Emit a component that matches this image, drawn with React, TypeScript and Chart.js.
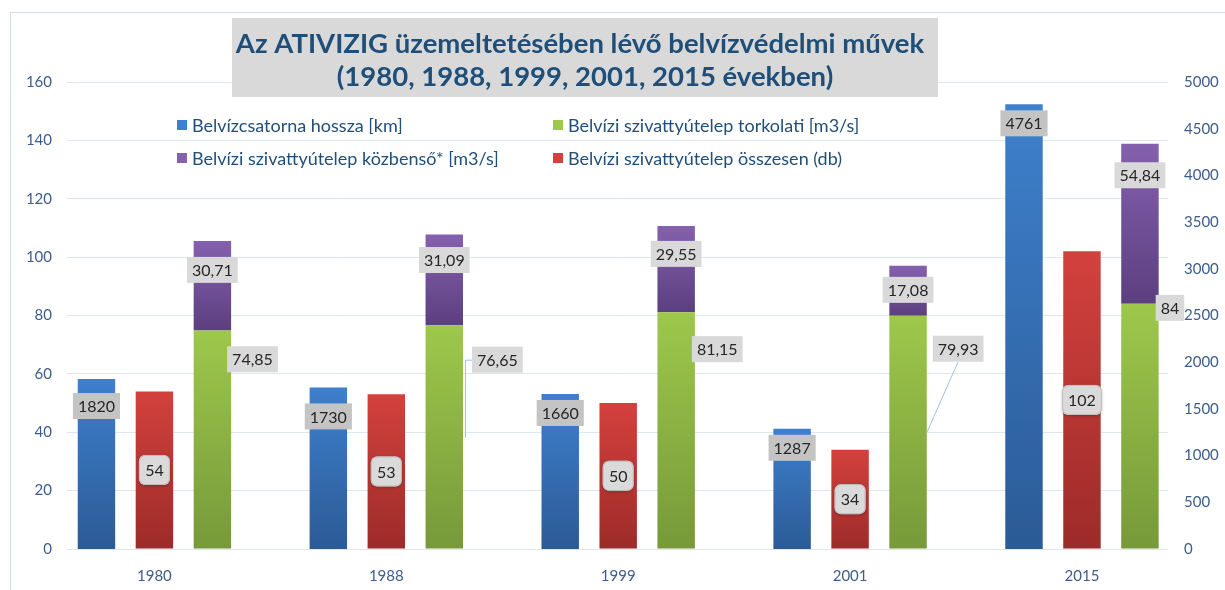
import React, { useEffect, useRef } from 'react';
import { Chart, registerables } from 'chart.js';

Chart.register(...registerables);

// ---- data ----
const years = ['1980', '1988', '1999', '2001', '2015'];
const canalKm = [1820, 1730, 1660, 1287, 4761];
const stationsTotal = [54, 53, 50, 34, 102];
const outletCap = [74.85, 76.65, 81.15, 79.93, 84];
const interCap = [30.71, 31.09, 29.55, 17.08, 54.84];

const leftMax = 160;
const leftStep = 20;
const rightMax = 5000;
const rightStep = 500;

const titleLines = [
  'Az ATIVIZIG üzemeltetésében lévő belvízvédelmi művek',
  '(1980, 1988, 1999, 2001, 2015 években)',
];
const nameCanal = 'Belvízcsatorna hossza [km]';
const nameOutlet = 'Belvízi szivattyútelep torkolati [m3/s]';
const nameInter = 'Belvízi szivattyútelep közbenső* [m3/s]';
const nameTotal = 'Belvízi szivattyútelep összesen (db)';

// ---- label placement (pixel offsets, style only) ----
const blueLabelDy = [27, 29, 19, 19, 19];
const purpleLabelDy = [29, 25.5, 28, 24, 31.5];
const greenLabelDx = [-4, 9, -3, 6, -3];
const greenLabelDy = [28.7, 34.4, 37, 33, 4];
const leaders: ({ kind: string; drop: number } | null)[] = [
  null,
  { kind: 'elbow', drop: 78 },
  null,
  { kind: 'diag', drop: 84 },
  null,
];

const FONT = 'Lato, "Open Sans", sans-serif';
const AXIS_COLOR = '#3d5d8c';
const TEXT_BLUE = '#1f4e79';

const COLORS = {
  blue: ['#3e80cd', '#2b5b96'],
  red: ['#d3413d', '#9d2b29'],
  green: ['#9dc84b', '#77993a'],
  purple: ['#8560ae', '#5c3f80'],
};

function fmt(v: number) {
  return String(v).replace('.', ',');
}

function barGradient(ctx: any, axisId: string, from: number, to: number, pair: string[]) {
  const chart = ctx.chart;
  const scale = chart.scales && chart.scales[axisId];
  if (ctx.type !== 'data' || !scale || !chart.chartArea) return pair[0];
  const y0 = scale.getPixelForValue(to);
  const y1 = scale.getPixelForValue(from);
  if (!isFinite(y0) || !isFinite(y1) || Math.abs(y1 - y0) < 0.5) return pair[0];
  const g = chart.ctx.createLinearGradient(0, y0, 0, y1);
  g.addColorStop(0, pair[0]);
  g.addColorStop(1, pair[1]);
  return g;
}

function box(c: CanvasRenderingContext2D, cx: number, cy: number, text: string, fill: string) {
  const tw = c.measureText(text).width;
  const w = tw + 10;
  const h = 26;
  c.fillStyle = fill;
  c.fillRect(cx - w / 2, cy - h / 2, w, h);
  c.fillStyle = '#262626';
  c.fillText(text, cx, cy + 1);
  return { w, h };
}

function roundBox(c: CanvasRenderingContext2D, cx: number, cy: number, text: string) {
  const tw = c.measureText(text).width;
  const w = Math.max(tw + 12, 31);
  const h = 30;
  const x = cx - w / 2;
  const y = cy - h / 2;
  c.save();
  c.shadowColor = 'rgba(0,0,0,0.25)';
  c.shadowBlur = 3;
  c.shadowOffsetY = 1;
  c.beginPath();
  (c as any).roundRect(x, y, w, h, 6);
  c.fillStyle = '#dadada';
  c.fill();
  c.restore();
  c.beginPath();
  (c as any).roundRect(x + 0.5, y + 0.5, w - 1, h - 1, 6);
  c.strokeStyle = '#bdbdbd';
  c.lineWidth = 1;
  c.stroke();
  c.fillStyle = '#262626';
  c.fillText(text, cx, cy + 1);
}

const decorPlugin = {
  id: 'decor',
  beforeDraw(chart: any) {
    const c = chart.ctx as CanvasRenderingContext2D;
    c.save();
    c.fillStyle = '#ffffff';
    c.fillRect(0, 0, chart.width, chart.height);
    c.strokeStyle = '#d5deea';
    c.lineWidth = 1;
    c.strokeRect(10.5, 12.5, chart.width + 20, chart.height + 20);
    c.restore();
  },
  afterDatasetsDraw(chart: any) {
    const c = chart.ctx as CanvasRenderingContext2D;
    c.save();
    c.font = `16px ${FONT}`;
    c.textAlign = 'center';
    c.textBaseline = 'middle';
    const mBlue = chart.getDatasetMeta(0).data;
    const mRed = chart.getDatasetMeta(1).data;
    const mGreen = chart.getDatasetMeta(2).data;
    const mPurple = chart.getDatasetMeta(3).data;
    for (let j = 0; j < years.length; j++) {
      const g = mGreen[j];
      const gRight = g.x + g.width / 2;
      const gtw = c.measureText(fmt(outletCap[j])).width + 10;
      const gLeft = gRight + greenLabelDx[j];
      const gcy = g.y + greenLabelDy[j];
      const ld = leaders[j];
      if (ld) {
        c.save();
        c.strokeStyle = '#9fc2e7';
        c.lineWidth = 1;
        c.beginPath();
        if (ld.kind === 'elbow') {
          c.moveTo(gLeft, gcy + 0.5);
          c.lineTo(gRight + 2.5, gcy + 0.5);
          c.lineTo(gRight + 2.5, gcy + ld.drop);
        } else {
          c.moveTo(gLeft + gtw / 2, gcy + 13);
          c.lineTo(gRight, gcy + ld.drop);
        }
        c.stroke();
        c.restore();
      }
      const b = mBlue[j];
      box(c, b.x, b.y + blueLabelDy[j], String(canalKm[j]), '#c4c4c4');
      const r = mRed[j];
      roundBox(c, r.x, (r.y + r.base) / 2, String(stationsTotal[j]));
      const p = mPurple[j];
      box(c, p.x, p.y + purpleLabelDy[j], fmt(interCap[j]), '#d9d9d9');
      box(c, gLeft + gtw / 2, gcy, fmt(outletCap[j]), '#d9d9d9');
    }
    c.restore();
  },
  afterDraw(chart: any) {
    const c = chart.ctx as CanvasRenderingContext2D;
    c.save();
    const items = [
      { x: 177, y: 125, color: COLORS.blue[0], text: nameCanal },
      { x: 553, y: 125, color: COLORS.green[0], text: nameOutlet },
      { x: 177, y: 158, color: COLORS.purple[0], text: nameInter },
      { x: 553, y: 158, color: COLORS.red[0], text: nameTotal },
    ];
    c.font = `18px ${FONT}`;
    c.textBaseline = 'middle';
    c.textAlign = 'left';
    for (const it of items) {
      c.fillStyle = it.color;
      c.fillRect(it.x, it.y - 5, 10, 10);
      c.fillStyle = TEXT_BLUE;
      c.fillText(it.text, it.x + 15, it.y + 1);
    }
    c.fillStyle = '#d9d9d9';
    c.fillRect(232, 18, 706, 79);
    c.fillStyle = TEXT_BLUE;
    c.font = `bold 27.5px ${FONT}`;
    c.textAlign = 'center';
    c.fillText(titleLines[0], 580, 44);
    c.fillText(titleLines[1], 585, 77);
    c.restore();
  },
};

export default function App() {
  const ref = useRef<HTMLCanvasElement | null>(null);
  useEffect(() => {
    if (!ref.current) return;
    const pts = (arr: number[]) => arr.map((v, i) => ({ x: i, y: v }));
    const chart = new Chart(ref.current, {
      type: 'bar',
      data: {
        datasets: [
          {
            label: nameCanal,
            data: pts(canalKm),
            yAxisID: 'y1',
            stack: 'canal',
            backgroundColor: (ctx: any) =>
              barGradient(ctx, 'y1', 0, canalKm[ctx.dataIndex] ?? 0, COLORS.blue),
          },
          {
            label: nameTotal,
            data: pts(stationsTotal),
            yAxisID: 'y',
            stack: 'total',
            backgroundColor: (ctx: any) =>
              barGradient(ctx, 'y', 0, stationsTotal[ctx.dataIndex] ?? 0, COLORS.red),
          },
          {
            label: nameOutlet,
            data: pts(outletCap),
            yAxisID: 'y',
            stack: 'cap',
            backgroundColor: (ctx: any) =>
              barGradient(ctx, 'y', 0, outletCap[ctx.dataIndex] ?? 0, COLORS.green),
          },
          {
            label: nameInter,
            data: pts(interCap),
            yAxisID: 'y',
            stack: 'cap',
            backgroundColor: (ctx: any) => {
              const i = ctx.dataIndex ?? 0;
              return barGradient(ctx, 'y', outletCap[i], outletCap[i] + interCap[i], COLORS.purple);
            },
          },
        ] as any,
      },
      options: {
        animation: false,
        responsive: false,
        events: [],
        layout: { padding: { top: 82, left: 0, right: 0, bottom: 0 } },
        datasets: {
          bar: { categoryPercentage: 0.75, barPercentage: 0.646, borderWidth: 0 },
        } as any,
        plugins: {
          legend: { display: false },
          title: { display: false },
          tooltip: { enabled: false },
        },
        scales: {
          x: {
            type: 'linear',
            min: -0.377,
            max: 4.371,
            offset: false,
            grid: { display: false, drawTicks: false, offset: false },
            border: { display: false },
            ticks: {
              stepSize: 1,
              includeBounds: false,
              autoSkip: false,
              maxRotation: 0,
              padding: 18,
              color: AXIS_COLOR,
              font: { family: FONT, size: 15 },
              callback: (v: any) => (Number.isInteger(v) && years[v] ? years[v] : ''),
            },
            afterFit: (s: any) => {
              s.height = 41;
            },
          },
          y: {
            type: 'linear',
            position: 'left',
            stacked: true,
            min: 0,
            max: leftMax,
            grid: { color: '#dde6f1', drawTicks: false, lineWidth: 1 },
            border: { display: false },
            ticks: {
              stepSize: leftStep,
              padding: 15,
              color: AXIS_COLOR,
              font: { family: FONT, size: 15 },
              callback: (v: any) => String(v),
            },
            afterFit: (s: any) => {
              s.width = 67;
            },
          },
          y1: {
            type: 'linear',
            position: 'right',
            stacked: true,
            min: 0,
            max: rightMax,
            grid: { display: false, drawTicks: false },
            border: { display: false },
            ticks: {
              stepSize: rightStep,
              padding: 16,
              color: AXIS_COLOR,
              font: { family: FONT, size: 15 },
              callback: (v: any) => String(v),
            },
            afterFit: (s: any) => {
              s.width = 57;
            },
          },
        } as any,
      },
      plugins: [decorPlugin as any],
    });
    return () => chart.destroy();
  }, []);
  return (
    <div style={{ position: 'fixed', left: 0, top: 0, width: 1225, height: 590, background: '#fff' }}>
      <canvas ref={ref} width={1225} height={590} style={{ display: 'block' }} />
    </div>
  );
}
